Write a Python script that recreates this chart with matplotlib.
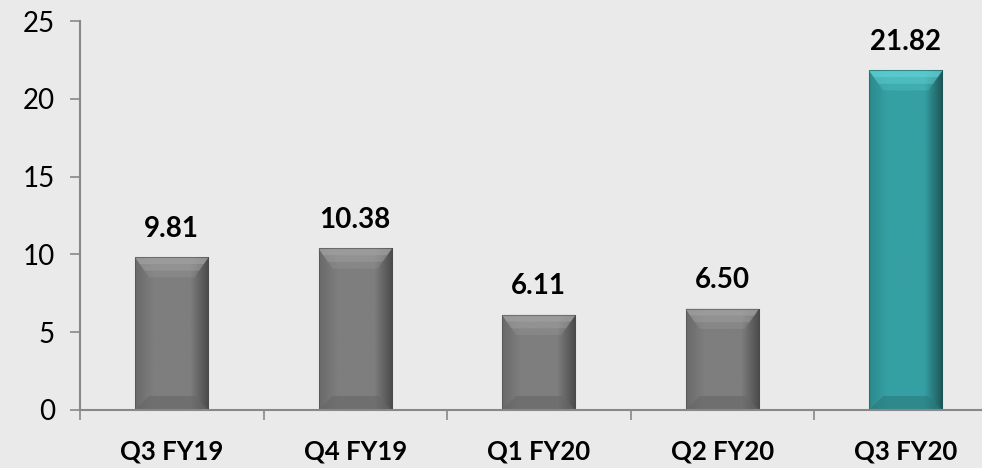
import numpy as np
import matplotlib.pyplot as plt
from matplotlib.colors import LinearSegmentedColormap
from matplotlib.patches import Polygon

plt.rcParams['font.family'] = ['Lato', 'DejaVu Sans']

# data
quarters = ['Q3 FY19', 'Q4 FY19', 'Q1 FY20', 'Q2 FY20', 'Q3 FY20']
values = [9.81, 10.38, 6.11, 6.50, 21.82]
labels = ['9.81', '10.38', '6.11', '6.50', '21.82']

bg = '#EAEAEA'
gray = dict(body='#7E7E7E', edge_l='#6A6A6A', edge_r='#4A4A4A',
            top='#A4A4A4', bot='#666666')
teal = dict(body='#35A0A3', edge_l='#2C8A8D', edge_r='#1D5557',
            top='#62D4D9', bot='#2A7A7D')
styles = [gray, gray, gray, gray, teal]

fig = plt.figure(figsize=(9.82, 4.68), dpi=100, facecolor=bg)
ax = fig.add_axes([80 / 982, 58 / 468, 917.5 / 982, 389 / 468])
ax.set_facecolor(bg)

x = np.arange(len(quarters))
width = 0.40
bars = ax.bar(x, values, width=width, color=[s['body'] for s in styles],
              zorder=2, linewidth=0)

ax.set_xlim(-0.5, len(quarters) - 0.5)
ax.set_ylim(0, 25)

# bevel look: side gradient + top / bottom chamfer, sized in pixels
px_y = 25 / 389.0          # data units per pixel (y)
px_x = 5 / 917.5           # data units per pixel (x)
for b, s in zip(bars, styles):
    x0, w, h = b.get_x(), b.get_width(), b.get_height()
    x1 = x0 + w
    cmap = LinearSegmentedColormap.from_list(
        'side', [s['edge_l'], s['body'], s['body'], s['body'], s['edge_r']])
    grad = np.linspace(0, 1, 200).reshape(1, -1)
    im = ax.imshow(grad, extent=[x0, x1, 0, h], aspect='auto', cmap=cmap,
                   zorder=2.1, interpolation='bilinear')
    im.set_clip_path(b)
    bt = 20 * px_y
    bs = 14 * px_x
    # top chamfer as a soft vertical fade
    for k, a in enumerate([0.55, 0.4, 0.25]):
        f = (k + 1) / 3
        poly = Polygon([[x0, h], [x1, h],
                        [x1 - bs * f, h - bt * f], [x0 + bs * f, h - bt * f]],
                       closed=True, facecolor=s['top'], edgecolor='none',
                       zorder=2.2, alpha=a)
        ax.add_patch(poly)
    bb = 14 * px_y
    bot = Polygon([[x0, 0], [x1, 0], [x1 - bs, bb], [x0 + bs, bb]],
                  closed=True, facecolor=s['bot'], edgecolor='none',
                  zorder=2.2, alpha=0.6)
    ax.add_patch(bot)
    ax.plot([x0, x0, x1, x1], [0, h, h, 0], color=s['edge_r'], lw=0.8,
            zorder=2.3, alpha=0.5)

for xi, v, lab in zip(x, values, labels):
    ax.annotate(lab, (xi, v), xytext=(0, 15), textcoords='offset points',
                ha='center', va='baseline', fontsize=20, fontweight='bold',
                color='black')

for side in ['top', 'right']:
    ax.spines[side].set_visible(False)
for side in ['left', 'bottom']:
    ax.spines[side].set_color('#888888')
    ax.spines[side].set_linewidth(1.5)

ax.set_yticks([0, 5, 10, 15, 20, 25])
ax.tick_params(axis='y', direction='out', length=7, width=1.2,
               color='#888888', labelsize=20, pad=11, labelcolor='black')

ax.set_xticks(x)
ax.set_xticklabels(quarters, fontsize=18.5, fontweight='bold')
ax.set_xticks(np.arange(len(quarters) + 1) - 0.5, minor=True)
ax.tick_params(axis='x', which='major', length=0, pad=21)
ax.tick_params(axis='x', which='minor', direction='out', length=7,
               width=1.2, color='#888888')

fig.savefig('out.png', dpi=100, facecolor=bg)
